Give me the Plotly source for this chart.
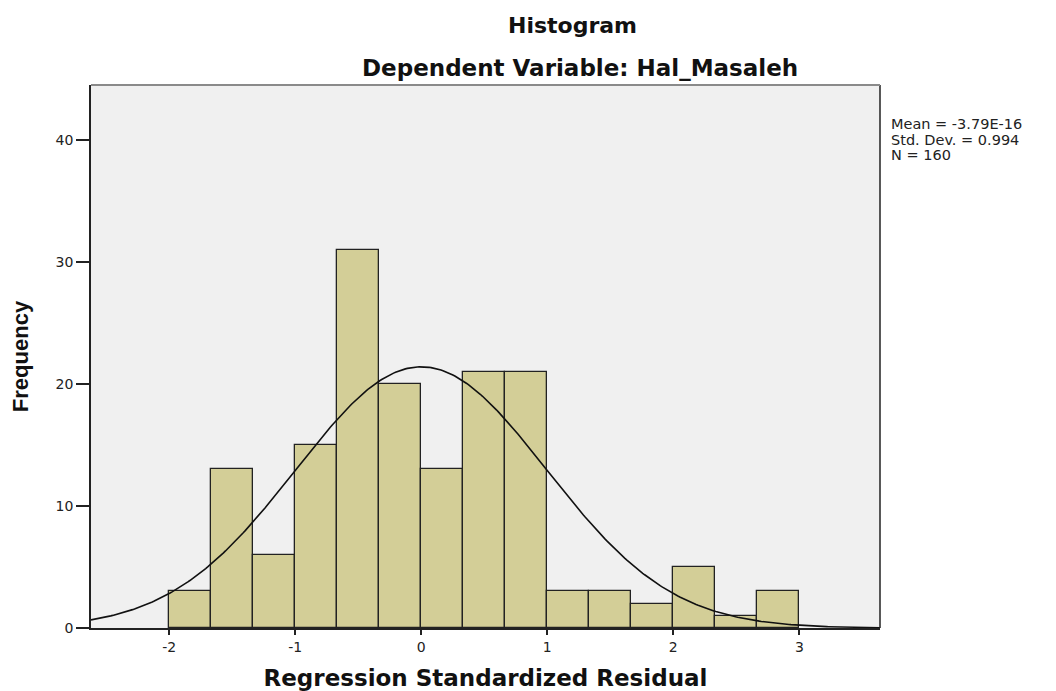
import numpy as np
import plotly.graph_objects as go

# Data
bin_start = -2.0
bin_width = 1.0 / 3.0
counts = [3, 13, 6, 15, 31, 20, 13, 21, 21, 3, 3, 2, 5, 1, 3]
mean_val = -3.79e-16
std_val = 0.994
n_val = 160
x_ticks = [-2, -1, 0, 1, 2, 3]
x_tick_labels = ["-2", "-1", "0", "1", "2", "3"]
y_ticks = [0, 10, 20, 30, 40]
stats_lines = ["Mean = -3.79E-16", "Std. Dev. = 0.994", "N = 160"]

centers = [bin_start + bin_width * (i + 0.5) for i in range(len(counts))]

x_min, x_max = -2.62, 3.64
xs = np.linspace(x_min, x_max, 400)
ys = n_val * bin_width / (std_val * np.sqrt(2 * np.pi)) * np.exp(-0.5 * ((xs - mean_val) / std_val) ** 2)

W, H = 1056, 691
L, R, T, B = 91, 176, 85, 63

fig = go.Figure()
fig.add_trace(go.Bar(
    x=centers, y=counts, width=bin_width,
    marker=dict(color="#D3CE97", line=dict(color="#222222", width=1.3)),
    showlegend=False, hoverinfo="x+y",
))
fig.add_trace(go.Scatter(
    x=xs, y=ys, mode="lines", line=dict(color="#111111", width=1.6),
    showlegend=False, hoverinfo="skip",
))

fig.update_layout(
    width=W, height=H,
    margin=dict(l=L, r=R, t=T, b=B, autoexpand=False),
    paper_bgcolor="white", plot_bgcolor="#F0F0F0",
    bargap=0,
    font=dict(family="DejaVu Sans, Verdana, sans-serif", color="#222222", size=13),
)

pw = W - L - R
ph = H - T - B
def px(x): return (x - L) / pw
def py(y): return (H - B - y) / ph

fig.add_annotation(text="<b>Histogram</b>", x=px(572), y=py(25), xref="paper", yref="paper",
                   showarrow=False, xanchor="center", yanchor="middle",
                   font=dict(size=22, color="#111111", family="DejaVu Sans, Verdana, sans-serif"))
fig.add_annotation(text="<b>Dependent Variable: Hal_Masaleh</b>", x=px(580), y=py(68),
                   xref="paper", yref="paper", showarrow=False, xanchor="center", yanchor="middle",
                   font=dict(size=23, color="#111111", family="DejaVu Sans, Verdana, sans-serif"))
for i, line in enumerate(stats_lines):
    fig.add_annotation(text=line, x=px(889), y=py(124 + 15.5 * i), xref="paper", yref="paper",
                       showarrow=False, xanchor="left", yanchor="middle", align="left",
                       font=dict(size=14.5, color="#222222", family="DejaVu Sans, Verdana, sans-serif"))

fig.update_xaxes(
    range=[x_min, x_max], tickvals=x_ticks, ticktext=x_tick_labels,
    ticks="outside", ticklen=5, tickcolor="#222222",
    tickwidth=1.5, automargin=False,
    showgrid=False, zeroline=False, showline=True, linecolor="#222222", linewidth=1.5,
    tickfont=dict(size=14, color="#222222"),
    title=dict(text="<b>Regression Standardized Residual</b>", standoff=20,
               font=dict(size=23, color="#111111", family="DejaVu Sans, Verdana, sans-serif")),
)
fig.update_yaxes(
    range=[0, 44.5], tickvals=y_ticks, ticks="outside", ticklen=13, tickcolor="#222222",
    tickwidth=1.5, automargin=False,
    showgrid=False, zeroline=False, showline=True, linecolor="#222222", linewidth=1.5,
    tickfont=dict(size=14, color="#222222"),
    title=dict(text="<b>Frequency</b>", standoff=21,
               font=dict(size=22, color="#111111", family="Liberation Sans, Arial, sans-serif")),
)
# right and top frame lines
fig.add_shape(type="line", xref="paper", yref="paper", x0=1, x1=1, y0=0, y1=1,
              line=dict(color="#222222", width=1.5))
fig.add_shape(type="line", xref="paper", yref="paper", x0=0, x1=1, y0=1, y1=1,
              line=dict(color="#8a8a8a", width=2))

fig.write_html("out.html", config={"displayModeBar": False},
               post_script="document.body.style.margin='0';")
